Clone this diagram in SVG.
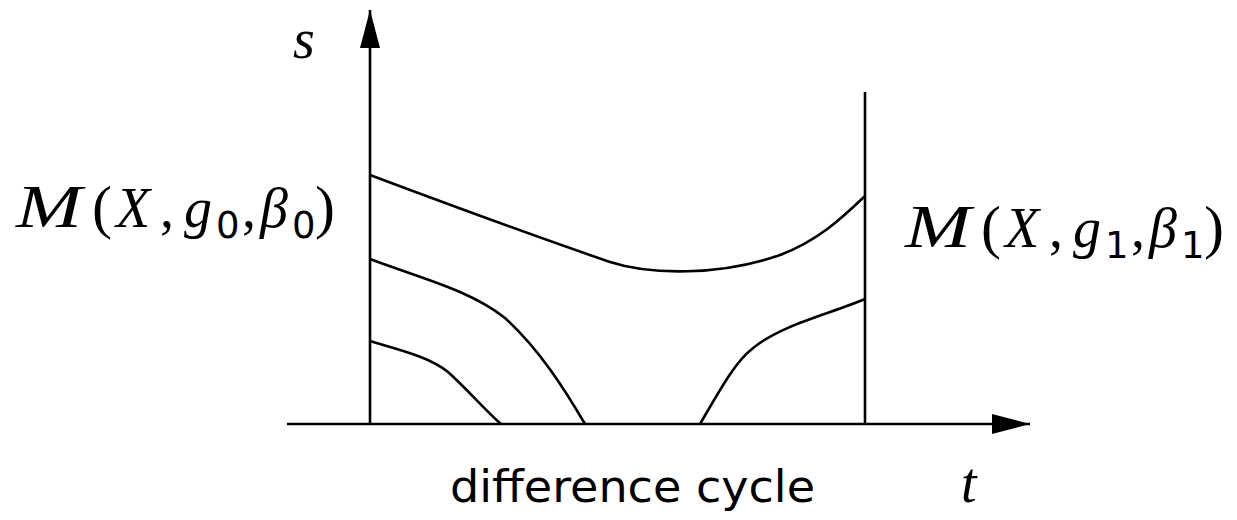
<svg xmlns="http://www.w3.org/2000/svg" width="1237" height="520" viewBox="0 0 1237 520">
<style>
.ln{fill:none;stroke:#000;stroke-width:2.6}
.m{font-family:"Liberation Serif",serif;font-size:56px;fill:#000}
.i{font-style:italic}
.p{font-size:60px}
.big{font-size:62px}
.sub{font-family:"DejaVu Sans",sans-serif;font-size:37px;fill:#000}
.sans{font-family:"DejaVu Sans","Liberation Sans",sans-serif;font-size:44px;fill:#000}
</style>
<defs>
<marker id="ah" markerWidth="40" markerHeight="20" refX="38" refY="10" orient="auto" markerUnits="userSpaceOnUse">
<path d="M0,0 L38,10 L0,20 Z" fill="#000"/>
</marker>
</defs>
<g id="connectors">
<line class="ln" x1="287" y1="424" x2="1030" y2="424" marker-end="url(#ah)"/>
<line class="ln" x1="370" y1="424" x2="370" y2="10" marker-end="url(#ah)"/>
<line class="ln" x1="865" y1="92" x2="865" y2="424"/>
<path class="ln" d="M370,175 C450,205 540,238 610,262 C650,275 720,276 780,255 C820,240 845,215 865,196"/>
<path class="ln" d="M370,259 C420,278 470,290 505,318 C540,350 565,390 585,424"/>
<path class="ln" d="M370,341 C400,350 430,357 448,372 C468,390 485,410 501,424"/>
<path class="ln" d="M700,424 C720,390 735,362 752,349 C780,325 830,314 865,299"/>
</g>
<g id="label-s"><text class="m i" x="293" y="58" font-size="50">s</text></g>
<g id="label-t"><text class="m i" x="961" y="502" font-size="50">t</text></g>
<g id="label-x"><text class="sans" x="450" y="502" textLength="365" lengthAdjust="spacingAndGlyphs">difference cycle</text></g>
<g id="label-left">
<text class="m i big" x="16" y="227" textLength="66" lengthAdjust="spacingAndGlyphs">M</text>
<text class="m p" x="92" y="227">(</text>
<text class="m i" x="116" y="227">X</text>
<text class="m" x="160" y="227">,</text>
<text class="m i" x="184" y="227">g</text>
<text class="sub" x="216" y="238">0</text>
<text class="m" x="242" y="227">,</text>
<text class="m i" x="260" y="227">β</text>
<text class="sub" x="292" y="238">0</text>
<text class="m p" x="315" y="227">)</text>
</g>
<g id="label-right">
<text class="m i big" x="905" y="247" textLength="66" lengthAdjust="spacingAndGlyphs">M</text>
<text class="m p" x="981" y="247">(</text>
<text class="m i" x="1005" y="247">X</text>
<text class="m" x="1049" y="247">,</text>
<text class="m i" x="1073" y="247">g</text>
<text class="sub" x="1105" y="258">1</text>
<text class="m" x="1131" y="247">,</text>
<text class="m i" x="1149" y="247">β</text>
<text class="sub" x="1181" y="258">1</text>
<text class="m p" x="1204" y="247">)</text>
</g>
</svg>
